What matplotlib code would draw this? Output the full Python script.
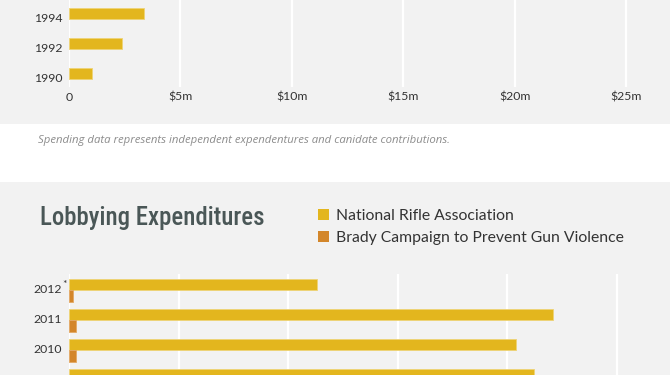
import matplotlib.pyplot as plt
from matplotlib.patches import Rectangle, Patch

# election spending (top, $m)
spend_years = ["1994", "1992", "1990"]
spend_nra = [3.36, 2.38, 1.03]
spend_ticks = [0, 5, 10, 15, 20, 25]
spend_ticklabels = ["0", "$5m", "$10m", "$15m", "$20m", "$25m"]

# lobbying (bottom, $m)
lobby_years = ["2012", "2011", "2010", "2009"]
lobby_nra = [1.13, 2.21, 2.04, 2.12]
lobby_brady = [0.018, 0.032, 0.032, 0.035]
lobby_ticks = [0, 0.5, 1.0, 1.5, 2.0, 2.5]

series_names = ["National Rifle Association", "Brady Campaign to Prevent Gun Violence"]
caption = "Spending data represents independent expendentures and canidate contributions."

NRA_COL = "#e3b61e"
BRADY_COL = "#d3862a"
BG = "#f2f2f2"
TXT = "#333333"

W, H = 670, 375
plt.rcParams['font.family'] = ['Lato', 'DejaVu Sans']


def px_box(x0, y0, x1, y1):
    # pixel box (top-left origin) -> figure fraction rect
    return [x0 / W, 1 - y1 / H, (x1 - x0) / W, (y1 - y0) / H]


fig = plt.figure(figsize=(W / 100, H / 100), dpi=100)
fig.patch.set_facecolor("white")
for box in [(0, 0, W, 124), (0, 182, W, H)]:
    b = px_box(*box)
    fig.patches.append(Rectangle((b[0], b[1]), b[2], b[3], transform=fig.transFigure,
                                 facecolor=BG, edgecolor="none", zorder=-10))


def style_axes(ax):
    ax.set_facecolor("none")
    for s in ax.spines.values():
        s.set_visible(False)
    ax.grid(axis="x", color="white", linewidth=1.6)
    ax.set_axisbelow(True)
    ax.tick_params(length=0, labelcolor=TXT, labelsize=8.8)
    ax.tick_params(axis="y", pad=5)


# top chart
ax1 = fig.add_axes(px_box(69, 0, 670, 87))
style_axes(ax1)
pos = list(range(len(spend_years)))
ax1.barh([p - 0.15 for p in pos], spend_nra, height=0.38, color=NRA_COL,
         edgecolor="#eed376", linewidth=0.6)
ax1.set_yticks(pos)
ax1.set_yticklabels(spend_years)
ax1.set_xticks(spend_ticks)
ax1.set_xticklabels(spend_ticklabels)
ax1.tick_params(axis="x", pad=3.5)
ax1.set_xlim(0, 601 / 22.28)
ax1.set_ylim(2.3, -0.6)

fig.text(38 / W, 1 - 140.5 / H, caption, fontsize=8.2, style="italic", color="#8c8c8c",
         family=["Open Sans", "DejaVu Sans"], va="center", ha="left")

# bottom chart
fig.text(40 / W, 1 - 218 / H, "Lobbying Expenditures", fontsize=17.8, color="#4a5757",
         family=["Liberation Sans Narrow", "Roboto Condensed", "DejaVu Sans"],
         fontstretch="condensed", fontweight="medium", va="center", ha="left")

handles = [Patch(facecolor=NRA_COL), Patch(facecolor=BRADY_COL)]
fig.legend(handles, series_names, loc="upper left", bbox_to_anchor=(318 / W, 1 - 209 / H),
           frameon=False, fontsize=11.3, handlelength=0.68, handleheight=0.68,
           handletextpad=0.45, borderpad=0, borderaxespad=0, labelspacing=0.5,
           labelcolor=TXT)

ax2 = fig.add_axes(px_box(69, 274, 670, 420))
style_axes(ax2)
pos = list(range(len(lobby_years)))
ax2.barh([p - 0.15 for p in pos], lobby_nra, height=0.37, color=NRA_COL,
         edgecolor="#eed376", linewidth=0.6)
ax2.barh([p + 0.235 for p in pos], lobby_brady, height=0.37, color=BRADY_COL,
         edgecolor="#e3a865", linewidth=0.6)
ax2.set_yticks(pos)
ax2.set_yticklabels(lobby_years)
ax2.set_xticks(lobby_ticks)
ax2.tick_params(axis="x", labelbottom=False)
ax2.set_xlim(0, 601 / 219.2)
ax2.set_ylim(4.367, -0.5)
ax2.annotate("*", xy=(0, 0), xycoords=("axes fraction", "data"), xytext=(-3.3, 3.5),
             textcoords="offset points", fontsize=7.5, color=TXT, ha="center", va="center")

fig.savefig("out.png", dpi=100)
